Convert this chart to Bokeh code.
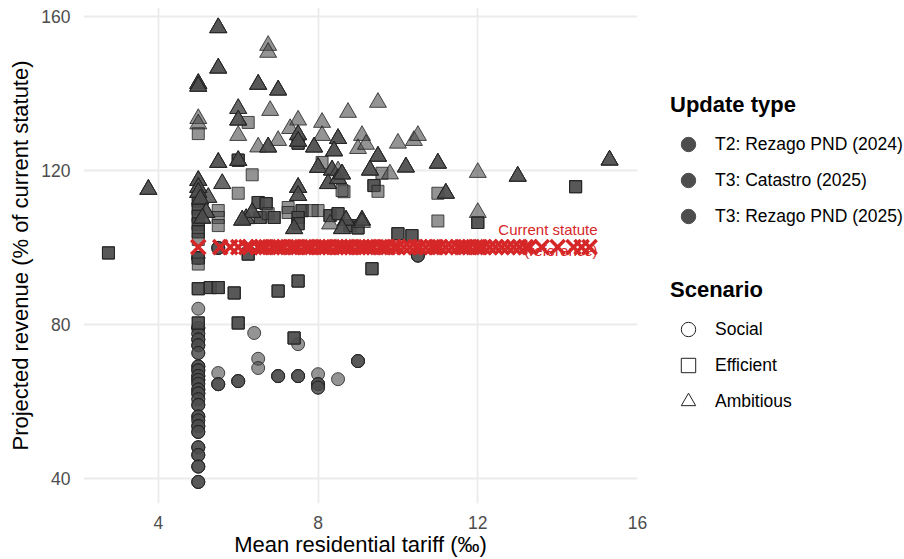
from bokeh.plotting import figure
from bokeh.layouts import row
from bokeh.models import Legend, LegendItem, FixedTicker, Range1d, ColumnDataSource
from bokeh.core.properties import value
from bokeh.embed import file_html
from bokeh.resources import INLINE

FONT = "Liberation Sans"

update_types = ["T2: Rezago PND (2024)", "T3: Catastro (2025)", "T3: Rezago PND (2025)"]
scenarios = ["Social", "Efficient", "Ambitious"]
x_ticks = [4, 8, 12, 16]
y_ticks = [40, 80, 120, 160]

# which update types share each point: "2" = T2 Rezago 2024, "C" = T3 Catastro, "R" = T3 Rezago 2025
ambitious_tariff = [5.5, 6.75, 6.75, 5.5, 5.0, 5.0, 6.5, 7.0, 5.0, 5.0, 6.0, 6.0, 6.8, 6.0, 7.5, 7.3,
                    7.5, 7.5, 7.0, 6.5, 6.75, 8.1, 8.1, 8.5, 8.75, 7.9, 8.4, 9.1, 9.0, 5.5, 6.0, 8.0,
                    8.35, 8.5, 8.25, 8.5, 8.6, 3.75, 5.0, 5.6, 7.5, 5.25, 9.5, 9.2, 10.0, 10.4, 10.5, 9.5,
                    9.3, 9.8, 10.2, 11.0, 12.0, 13.0, 15.3, 11.2, 12.0, 9.1, 6.2, 6.35, 6.1, 7.5, 7.4, 8.3,
                    8.7, 8.6, 9.1, 5.0, 5.0, 5.05, 5.2, 5.1]
ambitious_revenue = [157.0, 152.4, 150.6, 146.5, 142.5, 141.8, 142.3, 140.8, 133.4, 132.0, 136.0, 133.0, 135.5, 129.0, 133.0, 130.8,
                     129.2, 127.5, 127.7, 126.0, 126.0, 132.4, 129.0, 128.2, 135.0, 126.0, 125.0, 129.0, 125.6, 122.0, 122.5, 120.7,
                     120.0, 119.8, 116.5, 117.8, 119.0, 115.0, 117.3, 116.5, 115.5, 112.9, 137.6, 126.7, 127.0, 127.7, 129.0, 123.6,
                     120.0, 119.0, 120.8, 121.8, 119.4, 118.4, 122.6, 114.0, 109.0, 107.0, 107.4, 109.0, 107.0, 113.4, 104.8, 106.0,
                     107.0, 104.8, 106.4, 115.5, 114.2, 112.5, 109.0, 107.5]
ambitious_members = ["2CR", "C", "R", "2CR", "2CR", "2CR", "2CR", "2CR", "C", "R", "2R", "2CR", "C", "C", "C", "R",
                     "2CR", "2CR", "C", "R", "2CR", "C", "R", "2CR", "C", "2CR", "2CR", "C", "R", "2CR", "2CR", "2CR",
                     "2CR", "C", "2CR", "2CR", "2CR", "2CR", "2CR", "2R", "2CR", "2R", "C", "R", "C", "R", "C", "2CR",
                     "2CR", "C", "2CR", "2CR", "C", "2CR", "2CR", "2CR", "C", "2CR", "2CR", "2CR", "2CR", "2CR", "2CR", "C",
                     "2CR", "2CR", "C", "2CR", "2CR", "2CR", "2CR", "2CR"]

efficient_tariff = [2.75, 6.25, 5.0, 6.0, 7.5, 6.35, 6.0, 8.65, 8.1, 9.6, 9.4, 9.5, 11.0, 14.45, 12.0, 11.0,
                    10.0, 10.35, 8.6, 8.0, 8.3, 8.5, 8.8, 9.0, 5.0, 5.0, 5.0, 5.0, 5.0, 5.0, 5.0, 5.0,
                    5.5, 5.5, 5.5, 6.5, 6.7, 6.55, 6.75, 6.9, 7.25, 7.25, 7.6, 7.5, 7.85, 7.5, 6.25, 5.0,
                    5.3, 5.5, 5.9, 7.0, 7.5, 5.0, 6.0, 7.4, 9.35]
efficient_revenue = [98.5, 132.4, 129.5, 122.6, 127.0, 118.8, 114.0, 114.4, 122.0, 119.2, 116.0, 114.5, 114.0, 115.7, 106.4, 106.8,
                     103.5, 103.0, 114.7, 109.5, 108.2, 108.7, 105.6, 105.0, 112.0, 110.0, 108.0, 106.0, 104.0, 102.0, 97.2, 95.6,
                     109.5, 107.7, 105.6, 111.6, 111.3, 107.7, 108.7, 107.7, 110.3, 109.0, 109.5, 107.7, 109.5, 106.1, 98.2, 89.2,
                     89.5, 89.5, 88.1, 88.6, 91.2, 80.3, 80.3, 76.4, 94.4]
efficient_members = ["2CR", "C", "R", "2CR", "2CR", "C", "R", "C", "C", "R", "2CR", "C", "C", "2CR", "2CR", "C",
                     "2CR", "2CR", "R", "C", "2CR", "2CR", "2CR", "2CR", "2CR", "2CR", "2CR", "2CR", "2CR", "C", "2CR", "R",
                     "C", "R", "C", "2CR", "2CR", "2CR", "C", "2CR", "C", "R", "2CR", "2CR", "C", "2CR", "2CR", "2CR",
                     "2CR", "2CR", "2CR", "2CR", "2CR", "2CR", "2CR", "2CR", "2CR"]

social_tariff = [5.0, 5.0, 5.0, 5.0, 5.0, 5.0, 5.0, 5.0, 5.0, 5.0, 5.0, 5.0, 5.0, 5.0, 5.0, 5.0,
                 5.0, 5.0, 5.0, 5.0, 5.0, 5.0, 5.0, 5.0, 5.5, 6.4, 7.5, 6.5, 6.5, 5.5, 5.5, 6.0,
                 7.0, 7.5, 8.0, 8.0, 8.0, 8.5, 9.0, 10.5]
social_revenue = [97.2, 84.0, 79.0, 77.5, 76.0, 74.5, 72.5, 69.0, 68.0, 66.5, 65.5, 64.5, 63.0, 62.0, 60.5, 59.0,
                  56.0, 55.0, 53.5, 52.0, 48.0, 46.0, 43.0, 39.0, 99.8, 77.7, 74.8, 71.0, 68.6, 67.3, 64.4, 65.2,
                  66.5, 66.5, 67.0, 64.4, 63.5, 65.7, 70.4, 97.8]
social_members = ["2CR", "C", "2CR", "2R", "2CR", "2CR", "2R", "2CR", "2CR", "2CR", "2CR", "2R", "2CR", "2CR", "2R", "2CR",
                  "2CR", "2R", "2CR", "2CR", "2CR", "2CR", "2CR", "2CR", "2CR", "C", "C", "C", "R", "C", "2CR", "2CR",
                  "2CR", "2CR", "C", "2CR", "2R", "C", "2CR", "2CR"]

# current statute reference: one mark per municipality at 100% revenue
statute_level = 100
statute_tariff = [5.0, 5.55, 5.8, 6.0, 6.2, 6.3, 6.5, 6.6, 6.7, 6.85, 6.95, 7.05, 7.15, 7.3, 7.4, 7.5,
                  7.65, 7.75, 7.85, 8.0, 8.1, 8.2, 8.3, 8.45, 8.55, 8.65, 8.75, 8.85, 9.0, 9.1, 9.2, 9.3,
                  9.4, 9.55, 9.65, 9.75, 9.9, 10.0, 10.15, 10.3, 10.45, 10.55, 10.7, 10.85, 10.95, 11.05,
                  11.2, 11.35, 11.5, 11.6, 11.7, 11.8, 11.95, 12.05, 12.15, 12.3, 12.45, 12.6, 12.75, 12.9,
                  13.05, 13.2, 13.3, 13.6, 14.0, 14.4, 14.6, 14.8]
note_x = 15.0
note_text = "Current statute\n(reference)"

RED = "#D62728"
FILL = "#4D4D4D"

codes = {"2": update_types[0], "C": update_types[1], "R": update_types[2]}


def build(tariff, revenue, members):
    xs, ys, ts = [], [], []
    for x, y, m in zip(tariff, revenue, members):
        for c in m:
            xs.append(x)
            ys.append(y)
            ts.append(codes[c])
    return ColumnDataSource(dict(x=xs, y=ys, update=ts))


p = figure(width=650, height=559, output_backend="svg", toolbar_location=None,
           x_range=Range1d(2.125, 16.0), y_range=Range1d(33.4, 162.26),
           min_border_left=83, min_border_right=13, min_border_top=7, min_border_bottom=56)
p.outline_line_color = None
p.background_fill_color = "white"
p.border_fill_color = "white"

for ax, ticks in ((p.xaxis, x_ticks), (p.yaxis, y_ticks)):
    ax.ticker = FixedTicker(ticks=ticks)
    ax.axis_line_color = None
    ax.major_tick_line_color = None
    ax.minor_tick_line_color = None
    ax.major_label_text_font = FONT
    ax.major_label_text_font_size = "17.5px"
    ax.major_label_text_color = "#4D4D4D"
    ax.axis_label_text_font = FONT
    ax.axis_label_text_font_size = "22px"
    ax.axis_label_text_font_style = "normal"
    ax.axis_label_text_color = "black"

p.xaxis.axis_label = "Mean residential tariff (‰)"
p.yaxis.axis_label = "Projected revenue (% of current statute)"
p.xaxis.major_label_standoff = 6
p.xaxis.axis_label_standoff = 0
p.yaxis.major_label_standoff = 7
p.yaxis.axis_label_standoff = 5

p.xgrid.grid_line_color = "#EBEBEB"
p.ygrid.grid_line_color = "#EBEBEB"
p.xgrid.grid_line_width = 1.8
p.ygrid.grid_line_width = 1.8

p.text(x=[note_x], y=[statute_level], text=[note_text], text_align="right", text_baseline="middle",
       text_font=value(FONT), text_font_size="15px", text_color=RED, y_offset=-7, text_line_height=1.2)

p.scatter(x="x", y="y", source=build(social_tariff, social_revenue, social_members), marker="circle",
          size=13, fill_color=FILL, fill_alpha=0.6, line_color="#222222", line_alpha=0.8, line_width=1)
p.scatter(x="x", y="y", source=build(efficient_tariff, efficient_revenue, efficient_members), marker="square",
          size=12, fill_color=FILL, fill_alpha=0.6, line_color="#222222", line_alpha=0.8, line_width=1)
p.scatter(x="x", y="y", source=build(ambitious_tariff, ambitious_revenue, ambitious_members), marker="triangle",
          size=17, fill_color=FILL, fill_alpha=0.6, line_color="#222222", line_alpha=0.8, line_width=1)

p.scatter(x=statute_tariff, y=[statute_level] * len(statute_tariff), marker="x", size=20,
          line_color=RED, line_width=3.5)

# legend panel
lf = figure(width=254, height=559, output_backend="svg", toolbar_location=None,
            x_range=Range1d(0, 1), y_range=Range1d(0, 1), x_axis_type=None, y_axis_type=None,
            min_border_left=0, min_border_right=0, min_border_top=0, min_border_bottom=0)
lf.outline_line_color = None
lf.background_fill_color = "white"
lf.border_fill_color = "white"

nan = float("nan")
type_r = [lf.scatter(x=[nan], y=[nan], marker="circle", fill_color=FILL, line_color=FILL)
          for _ in update_types]
scen_r = [lf.scatter(x=[nan], y=[nan], marker=m, fill_color=None, line_color="#222222", line_width=1)
          for m in ("circle", "square", "triangle")]

common = dict(title_text_font=FONT, title_text_font_size="22px", title_text_font_style="bold",
              title_text_color="black", title_standoff=8, label_text_font=FONT,
              label_text_font_size="17.5px", label_text_color="black", glyph_width=36, glyph_height=36,
              spacing=0, label_standoff=9, padding=0, margin=0, border_line_color=None,
              background_fill_alpha=0)

leg1 = Legend(items=[LegendItem(label=t, renderers=[r]) for t, r in zip(update_types, type_r)],
              title="Update type", location=(20, 269), **common)
leg2 = Legend(items=[LegendItem(label=s, renderers=[r]) for s, r in zip(scenarios, scen_r)],
              title="Scenario", location=(20, 84), **common)
lf.add_layout(leg1)
lf.add_layout(leg2)

layout = row(p, lf)
open("out.html", "w").write(file_html(layout, INLINE))
